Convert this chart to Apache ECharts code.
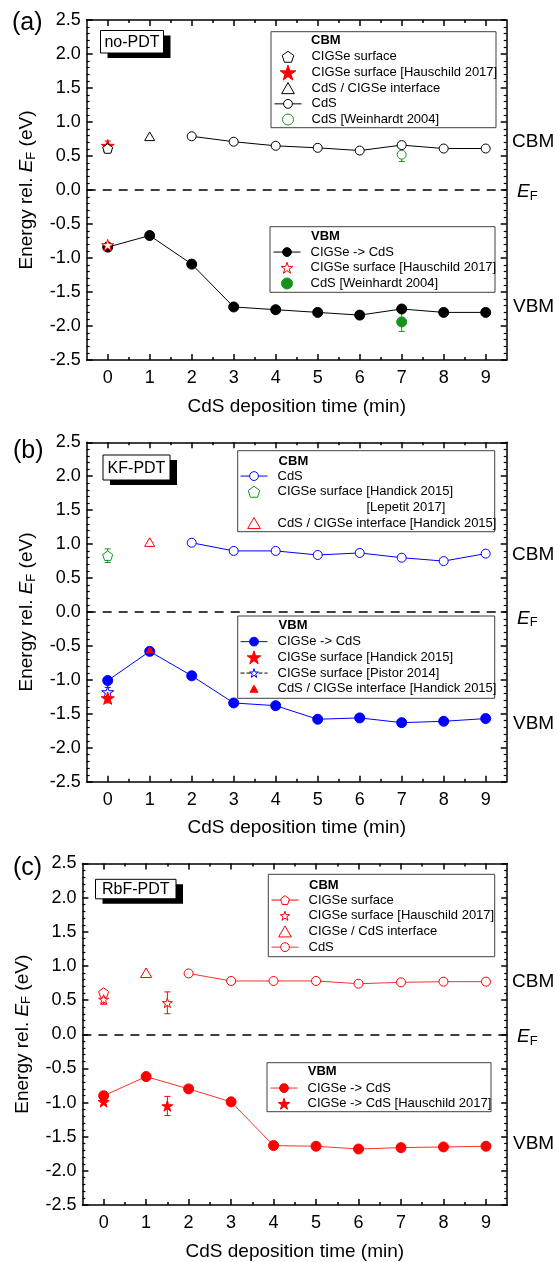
<!DOCTYPE html>
<html><head><meta charset="utf-8">
<script src="https://cdn.jsdelivr.net/npm/echarts@6/dist/echarts.min.js"></script>
<style>html,body{margin:0;padding:0;background:#fff}#c{width:557px;height:1262px}</style>
</head><body><div id="c"></div>
<script>
// ---------- tick positions ----------
const xTicks = [0,1,2,3,4,5,6,7,8,9];
const xMinorTicks = [0.5,1.5,2.5,3.5,4.5,5.5,6.5,7.5,8.5];

// ---------- panel (a) no-PDT ----------
const aCdsTime = [2,3,4,5,6,7,8,9];
const aCbmCdS = [0.79,0.71,0.65,0.62,0.58,0.66,0.61,0.61];
const aSurfTime = [0];            const aCbmSurface = [0.61];
const aHauTime = [0];             const aCbmHau = [0.65];     const aCbmHauErr = [0.07];
const aIfTime = [1];              const aCbmInterface = [0.79];
const aWeiTime = [7];             const aCbmWei = [0.52];     const aCbmWeiErr = [0.10];
const aVbmTime = [0,1,2,3,4,5,6,7,8,9];
const aVbm = [-0.84,-0.67,-1.09,-1.72,-1.76,-1.80,-1.84,-1.75,-1.80,-1.80];
const aVbmHau = [-0.81];
const aVbmWei = [-1.94];          const aVbmWeiErr = [0.14];

// ---------- panel (b) KF-PDT ----------
const bCdsTime = [2,3,4,5,6,7,8,9];
const bCbmCdS = [1.02,0.90,0.90,0.84,0.87,0.80,0.75,0.86];
const bHanTime = [0];             const bCbmHandick = [0.83];  const bCbmHandickErr = [0.10];
const bIfTime = [1];              const bCbmInterface = [1.03];
const bVbmTime = [0,1,2,3,4,5,6,7,8,9];
const bVbm = [-1.01,-0.58,-0.94,-1.34,-1.38,-1.58,-1.56,-1.63,-1.61,-1.57];
const bVbmHandick = [-1.27];      const bVbmHandickErr = [0.07];
const bVbmPistor = [-1.18];       const bVbmPistorErr = [0.07];
const bVbmInterface = [-0.56];

// ---------- panel (c) RbF-PDT ----------
const cCdsTime = [2,3,4,5,6,7,8,9];
const cCbmCdS = [0.89,0.78,0.78,0.78,0.74,0.76,0.77,0.77];
const cSurfTime = [0];            const cCbmSurface = [0.61];
const cHauTime = [0,1.5];         const cCbmHau = [0.51,0.46];  const cCbmHauErr = [0.07,0.16];
const cIfTime = [1];              const cCbmInterface = [0.90];
const cVbmTime = [0,1,2,3,4,5,6,7,8,9];
const cVbm = [-0.90,-0.62,-0.80,-0.99,-1.63,-1.64,-1.68,-1.66,-1.65,-1.64];
const cVbmHau = [-0.99,-1.05];    const cVbmHauErr = [0.04,0.14];

// ---------- helpers ----------
const FONT = '"Liberation Sans", Arial, sans-serif';
const STAR = 'path://M50,0L61.2,34.5L97.6,34.5L68.2,55.9L79.4,90.5L50,69.1L20.6,90.5L31.8,55.9L2.4,34.5L38.8,34.5Z';
const PENT = 'path://M50,0L97.6,34.5L79.4,90.5L20.6,90.5L2.4,34.5Z';
const TRI = 'path://M50,0L100,86.6L0,86.6Z';
const RED = '#ff0000', BLUE = '#0000ff', GREEN = '#17931a', BLACK = '#000000';

function pts(xs, ys){ return xs.map((x,i)=>[x, ys[i]]); }
function errPts(xs, ys, es){ return xs.map((x,i)=>[x, ys[i]-es[i], ys[i]+es[i]]); }

const grids = [
  {left: 86.7, top: 20, width: 420, height: 340},
  {left: 86.7, top: 442.3, width: 420, height: 339.4},
  {left: 82.4, top: 863.5, width: 424.8, height: 342.2}
];

const xAxes = [], yAxes = [];
const yName = '{n|Energy rel. }{i|E}{s|F}{n| (eV)}';
const nameRich = {
  n:{fontSize:19, fontFamily:FONT, color:'#000'},
  i:{fontSize:19, fontFamily:FONT, fontStyle:'italic', color:'#000'},
  s:{fontSize:13, fontFamily:FONT, color:'#000', verticalAlign:'bottom', padding:[9,0,0,0]}
};
grids.forEach((g, gi) => {
  const line = {color:'#000', width:1.5};
  const base = {gridIndex: gi, type:'value', min:-0.5, max:9.5, splitLine:{show:false}};
  xAxes.push(Object.assign({}, base, {
    position:'bottom', name:'CdS deposition time (min)', nameLocation:'middle', nameGap:37,
    nameTextStyle:{fontSize:19, fontFamily:FONT, color:'#000'},
    axisLine:{onZero:false, lineStyle:line},
    axisTick:{inside:true, length:6, customValues:xTicks, lineStyle:line},
    axisLabel:{customValues:xTicks, margin:9, fontSize:18, fontFamily:FONT, color:'#000'}
  }));
  xAxes.push(Object.assign({}, base, {
    position:'bottom', axisLine:{show:false, onZero:false},
    axisTick:{inside:true, length:3, customValues:xMinorTicks, lineStyle:line},
    axisLabel:{show:false}
  }));
  xAxes.push(Object.assign({}, base, {
    position:'top', axisLine:{onZero:false, lineStyle:line},
    axisTick:{inside:true, length:6, customValues:xTicks, lineStyle:line},
    axisLabel:{show:false}
  }));
  xAxes.push(Object.assign({}, base, {
    position:'top', axisLine:{show:false, onZero:false},
    axisTick:{inside:true, length:3, customValues:xMinorTicks, lineStyle:line},
    axisLabel:{show:false}
  }));
  const ybase = {gridIndex: gi, type:'value', min:-2.5, max:2.5, interval:0.5, splitLine:{show:false},
    axisLine:{onZero:false, lineStyle:line},
    axisTick:{inside:true, length:6, lineStyle:line},
    minorTick:{show:true, splitNumber:5, length:3, lineStyle:{color:'#000', width:1.2}},
    minorSplitLine:{show:false}};
  yAxes.push(Object.assign({}, ybase, {
    position:'left', name:yName, nameLocation:'middle', nameGap:49,
    nameTextStyle:{fontSize:19, fontFamily:FONT, color:'#000', rich:nameRich},
    axisLabel:{formatter: v => v.toFixed(1), margin:6, fontSize:18, fontFamily:FONT, color:'#000'}
  }));
  yAxes.push(Object.assign({}, ybase, {position:'right', axisLabel:{show:false}}));
});

function ax(gi){ return {xAxisIndex: gi*4, yAxisIndex: gi*2}; }

function sym(name, gi, xs, ys, o){
  const s = Object.assign({
    name, type: o.line ? 'line' : 'scatter', data: pts(xs, ys),
    symbol: o.symbol, symbolSize: o.size, symbolKeepAspect: true, z: o.z || 3,
    itemStyle:{color:o.fill, borderColor:o.stroke, borderWidth:1, opacity:1},
    emphasis:{disabled:true}, silent:true
  }, ax(gi));
  if (o.line) {
    s.showSymbol = true; s.showAllSymbol = true;
    s.lineStyle = {color:o.lineColor, width:1, type:o.lineType || 'solid'};
  }
  if (o.zero) {
    s.markLine = {silent:true, symbol:['none','none'], label:{show:false},
      lineStyle:{color:'#000', type:[9,7], width:1.5}, data:[{yAxis:0}]};
  }
  return s;
}
function err(gi, xs, ys, es, color){
  return Object.assign({
    type:'custom', data: errPts(xs, ys, es), z:2, silent:true,
    encode:{x:0, y:[1,2]},
    renderItem: function(params, api){
      const x = api.value(0);
      const p1 = api.coord([x, api.value(1)]);
      const p2 = api.coord([x, api.value(2)]);
      const w = 3, st = {stroke:color, lineWidth:1};
      return {type:'group', children:[
        {type:'line', shape:{x1:p1[0], y1:p1[1], x2:p2[0], y2:p2[1]}, style:st},
        {type:'line', shape:{x1:p1[0]-w, y1:p1[1], x2:p1[0]+w, y2:p1[1]}, style:st},
        {type:'line', shape:{x1:p2[0]-w, y1:p2[1], x2:p2[0]+w, y2:p2[1]}, style:st}
      ]};
    }
  }, ax(gi));
}

const series = [
  // ---- (a)
  err(0, aHauTime, aCbmHau, aCbmHauErr, RED),
  err(0, aWeiTime, aCbmWei, aCbmWeiErr, GREEN),
  err(0, aWeiTime, aVbmWei, aVbmWeiErr, GREEN),
  sym('a1:CIGSe surface [Hauschild 2017]', 0, aHauTime, aCbmHau, {symbol:STAR, size:13, fill:RED, stroke:RED, z:3}),
  sym('a1:CIGSe surface', 0, aSurfTime, aCbmSurface, {symbol:PENT, size:10, fill:'#fff', stroke:BLACK, z:4}),
  sym('a1:CdS / CIGSe interface', 0, aIfTime, aCbmInterface, {symbol:TRI, size:10, fill:'#fff', stroke:BLACK, z:4}),
  sym('a1:CdS [Weinhardt 2004]', 0, aWeiTime, aCbmWei, {symbol:'circle', size:9, fill:'#fff', stroke:GREEN, z:3}),
  sym('a1:CdS', 0, aCdsTime, aCbmCdS, {line:true, symbol:'circle', size:9, fill:'#fff', stroke:BLACK, lineColor:BLACK, z:4}),
  sym('a2:CIGSe -> CdS', 0, aVbmTime, aVbm, {line:true, symbol:'circle', size:10, fill:BLACK, stroke:BLACK, lineColor:BLACK, z:3, zero:true}),
  sym('a2:CIGSe surface [Hauschild 2017]', 0, aHauTime, aVbmHau, {symbol:STAR, size:12, fill:'#fff', stroke:RED, z:4}),
  sym('a2:CdS [Weinhardt 2004]', 0, aWeiTime, aVbmWei, {symbol:'circle', size:10, fill:GREEN, stroke:GREEN, z:4}),
  // ---- (b)
  err(1, bHanTime, bCbmHandick, bCbmHandickErr, GREEN),
  err(1, bHanTime, bVbmPistor, bVbmPistorErr, BLUE),
  err(1, bHanTime, bVbmHandick, bVbmHandickErr, RED),
  sym('b1:CdS', 1, bCdsTime, bCbmCdS, {line:true, symbol:'circle', size:9, fill:'#fff', stroke:BLUE, lineColor:BLUE, z:3}),
  sym('b1:CIGSe surface [Handick 2015]', 1, bHanTime, bCbmHandick, {symbol:PENT, size:10, fill:'#fff', stroke:GREEN, z:3}),
  sym('b1:CdS / CIGSe interface [Handick 2015]', 1, bIfTime, bCbmInterface, {symbol:TRI, size:10, fill:'#fff', stroke:RED, z:3}),
  sym('b2:CIGSe -> CdS', 1, bVbmTime, bVbm, {line:true, symbol:'circle', size:10, fill:BLUE, stroke:BLUE, lineColor:BLUE, z:3, zero:true}),
  sym('b2:CIGSe surface [Pistor 2014]', 1, bHanTime, bVbmPistor, {line:true, symbol:STAR, size:12, fill:'#fff', stroke:BLUE, lineColor:BLACK, lineType:'dashed', z:4}),
  sym('b2:CIGSe surface [Handick 2015]', 1, bHanTime, bVbmHandick, {symbol:STAR, size:13, fill:RED, stroke:RED, z:5}),
  sym('b2:CdS / CIGSe interface [Handick 2015]', 1, bIfTime, bVbmInterface, {symbol:TRI, size:7, fill:RED, stroke:RED, z:5}),
  // ---- (c)
  err(2, cHauTime, cCbmHau, cCbmHauErr, RED),
  err(2, cHauTime, cVbmHau, cVbmHauErr, RED),
  sym('c1:CIGSe surface', 2, cSurfTime, cCbmSurface, {line:true, symbol:PENT, size:10, fill:'#fff', stroke:RED, lineColor:RED, z:3}),
  sym('c1:CIGSe surface [Hauschild 2017]', 2, cHauTime, cCbmHau, {symbol:STAR, size:10, fill:'#fff', stroke:RED, z:4}),
  sym('c1:CIGSe / CdS interface', 2, cIfTime, cCbmInterface, {symbol:TRI, size:11, fill:'#fff', stroke:RED, z:3}),
  sym('c1:CdS', 2, cCdsTime, cCbmCdS, {line:true, symbol:'circle', size:9, fill:'#fff', stroke:RED, lineColor:'#ff3030', z:3}),
  sym('c2:CIGSe -> CdS', 2, cVbmTime, cVbm, {line:true, symbol:'circle', size:10, fill:RED, stroke:RED, lineColor:'#ff3030', z:3, zero:true}),
  sym('c2:CIGSe -> CdS [Hauschild 2017]', 2, cHauTime, cVbmHau, {symbol:STAR, size:11, fill:RED, stroke:RED, z:4})
];

// ---------- legends ----------
// single-symbol legends are shifted by half the free icon width so texts line up
function leg(left, top, names, ih, iconW){
  const shift = iconW ? (27 - iconW) / 2 : 0;
  return {left: left + shift, top, orient:'vertical', padding:0, itemGap:0, itemWidth:27, itemHeight:ih || 11,
    selectedMode:false, data:names, symbolKeepAspect:true,
    formatter: n => n.replace(/^[a-z][0-9]:/, ''),
    itemStyle:{borderWidth:1}, lineStyle:{width:1},
    textStyle:{fontSize:13, fontFamily:FONT, color:'#000', lineHeight:15.7, padding:[0,0,0,5]}};
}
const legends = [
  leg(274, 48.9, ['a1:CIGSe surface'], 11, 11.6),
  leg(274, 64.6, ['a1:CIGSe surface [Hauschild 2017]'], 15, 15.8),
  leg(274, 80.3, ['a1:CdS / CIGSe interface','a1:CdS','a1:CdS [Weinhardt 2004]']),
  leg(273, 244.2, ['a2:CIGSe -> CdS','a2:CIGSe surface [Hauschild 2017]','a2:CdS [Weinhardt 2004]']),
  leg(240, 468.2, ['b1:CdS','b1:CIGSe surface [Handick 2015]']),
  leg(240, 515.2, ['b1:CdS / CIGSe interface [Handick 2015]'], 11, 12.7),
  leg(240, 633.8, ['b2:CIGSe -> CdS']),
  leg(240, 649.5, ['b2:CIGSe surface [Handick 2015]'], 13, 13.7),
  leg(240, 665.2, ['b2:CIGSe surface [Pistor 2014]']),
  leg(240, 680.9, ['b2:CdS / CIGSe interface [Handick 2015]'], 7, 8.1),
  leg(271, 892.2, ['c1:CIGSe surface']),
  leg(271, 907.9, ['c1:CIGSe surface [Hauschild 2017]'], 9, 9.5),
  leg(271, 923.6, ['c1:CIGSe / CdS interface','c1:CdS']),
  leg(270, 1080.2, ['c2:CIGSe -> CdS','c2:CIGSe -> CdS [Hauschild 2017]'])
];

// ---------- annotations ----------
const gfx = [];
function box(x, y, w, h){
  gfx.push({type:'rect', shape:{x, y, width:w, height:h}, style:{fill:'#fff', stroke:'#404040', lineWidth:1}, z:1, silent:true});
}
function txt(x, y, t, o){
  gfx.push({type:'text', x, y, silent:true, z:10, style:Object.assign({text:t, font:'19px ' + FONT, fill:'#000', verticalAlign:'middle', align:'left'}, o || {})});
}
function sample(x, y, w, h, label){
  gfx.push({type:'rect', shape:{x:x+7, y:y+5, width:w, height:h}, style:{fill:'#000'}, z:8, silent:true});
  gfx.push({type:'rect', shape:{x, y, width:w, height:h}, style:{fill:'#fff', stroke:'#000', lineWidth:1}, z:9, silent:true});
  txt(x + w/2, y + h/2 + 1, label, {font:'16px ' + FONT, align:'center'});
}
const efRich = {i:{fontSize:19, fontStyle:'italic', fontFamily:FONT, fill:'#000'}, s:{fontSize:13, fontFamily:FONT, fill:'#000', verticalAlign:'bottom', padding:[9,0,0,0]}};
// legend frames + headings
box(271, 31.7, 225, 96);     txt(311, 40.7, 'CBM', {font:'bold 13px ' + FONT});
box(270, 226.7, 225, 65.6);  txt(311, 236.7, 'VBM', {font:'bold 13px ' + FONT});
box(237.7, 450.7, 257, 81);  txt(278.6, 461, 'CBM', {font:'bold 13px ' + FONT});
txt(366.5, 507.3, '[Lepetit 2017]', {font:'13px ' + FONT});
box(237.7, 616, 257, 82.3);  txt(278.6, 625, 'VBM', {font:'bold 13px ' + FONT});
box(268.3, 874.3, 226.4, 82.4); txt(309, 885, 'CBM', {font:'bold 13px ' + FONT});
box(267, 1062.7, 224, 49);   txt(307.8, 1071.7, 'VBM', {font:'bold 13px ' + FONT});
// sample tags
sample(100.5, 30.5, 63, 22.5, 'no-PDT');
sample(103, 455, 67, 25, 'KF-PDT');
sample(95.5, 879.3, 80.5, 19.5, 'RbF-PDT');
// panel letters
txt(12, 23, '(a)', {font:'25px ' + FONT});
txt(13, 451, '(b)', {font:'25px ' + FONT});
txt(13, 868, '(c)', {font:'25px ' + FONT});
// right-hand labels
[[141.7, 192, 306.7], [555, 618.3, 723.3], [981.7, 1036.7, 1143.3]].forEach(r => {
  txt(512, r[0], 'CBM');
  gfx.push({type:'text', x:517, y:r[1], silent:true, z:10, style:{text:'{i|E}{s|F}', rich:efRich, verticalAlign:'middle', align:'left', font:'19px ' + FONT}});
  txt(513, r[2], 'VBM');
});

const chart = echarts.init(document.getElementById('c'), null, {renderer:'canvas'});
chart.setOption({
  animation:false,
  backgroundColor:'#fff',
  grid: grids,
  xAxis: xAxes,
  yAxis: yAxes,
  legend: legends,
  series: series,
  graphic: {elements: gfx}
});
</script></body></html>
